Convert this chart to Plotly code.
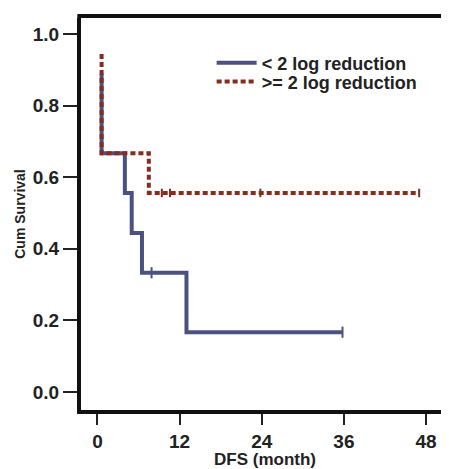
import plotly.graph_objects as go

# Kaplan-Meier step data (months, cumulative survival)
low_t = [0.6, 0.6, 4.0, 4.0, 5.0, 5.0, 6.5, 6.5, 13.0, 13.0, 35.8]
low_s = [0.889, 0.667, 0.667, 0.556, 0.556, 0.444, 0.444, 0.333, 0.333, 0.167, 0.167]
low_cens_t = [7.9, 35.8]
low_cens_s = [0.333, 0.167]

high_t = [0.6, 0.6, 7.5, 7.5, 47.0]
high_s = [0.944, 0.667, 0.667, 0.556, 0.556]
high_cens_t = [9.4, 10.6, 23.8, 47.0]
high_cens_s = [0.556, 0.556, 0.556, 0.556]

x_ticks = [0, 12, 24, 36, 48]
y_ticks = [0.0, 0.2, 0.4, 0.6, 0.8, 1.0]

blue = "#4b5282"
red = "#852c1e"
font_main = "Liberation Sans, Arial, sans-serif"

fig = go.Figure()
fig.add_trace(go.Scatter(x=low_t, y=low_s, mode="lines", name="< 2 log reduction",
                         line=dict(color=blue, width=4), legend="legend"))
fig.add_trace(go.Scatter(x=high_t, y=high_s, mode="lines", name=">= 2 log reduction",
                         line=dict(color=red, width=4, dash="5px,3px"), legend="legend2"))
fig.add_trace(go.Scatter(x=low_cens_t, y=low_cens_s, mode="markers", showlegend=False,
                         marker=dict(symbol="line-ns", size=8, line=dict(color=blue, width=2))))
fig.add_trace(go.Scatter(x=high_cens_t, y=high_cens_s, mode="markers", showlegend=False,
                         marker=dict(symbol="line-ns", size=6, line=dict(color=red, width=2))))

leg_common = dict(x=0.355, xanchor="left", yanchor="middle", bgcolor="rgba(0,0,0,0)",
                  font=dict(size=18, family=font_main, weight="bold", color="#222222"),
                  itemwidth=40)
fig.update_layout(
    width=441, height=461,
    margin=dict(l=73, r=0, t=10, b=59, autoexpand=False),
    paper_bgcolor="white", plot_bgcolor="white",
    font=dict(family=font_main, color="#222222", size=15),
    legend=dict(y=0.885, **leg_common),
    legend2=dict(y=0.837, **leg_common),
    xaxis=dict(range=[-2.41, 51.36], tickvals=x_ticks, showgrid=False, zeroline=False, automargin=False,
               showline=True, linecolor="#111111", linewidth=4, mirror=False,
               ticks="outside", ticklen=11, tickwidth=2, tickcolor="#222222",
               tickfont=dict(size=19, family=font_main, weight="bold"),
               title=dict(text="DFS (month)", font=dict(size=17, family=font_main, weight="bold"), standoff=12)),
    yaxis=dict(range=[-0.0503, 1.0447], tickvals=y_ticks, tickformat=".1f", showgrid=False, zeroline=False,
               automargin=False,
               showline=True, linecolor="#111111", linewidth=4,
               ticks="outside", ticklen=14, tickwidth=2, tickcolor="#222222",
               tickfont=dict(size=19, family=font_main, weight="bold"),
               title=dict(text="Cum Survival", font=dict(size=14, family=font_main, weight="bold"), standoff=5)),
)
# top border of the plot frame (drawn just outside the plot area like the axis lines)
fig.add_shape(type="line", xref="paper", yref="paper", x0=-0.01, x1=1,
              ysizemode="pixel", yanchor=1, y0=2, y1=2,
              line=dict(color="#111111", width=4))

fig.write_html("out.html")
